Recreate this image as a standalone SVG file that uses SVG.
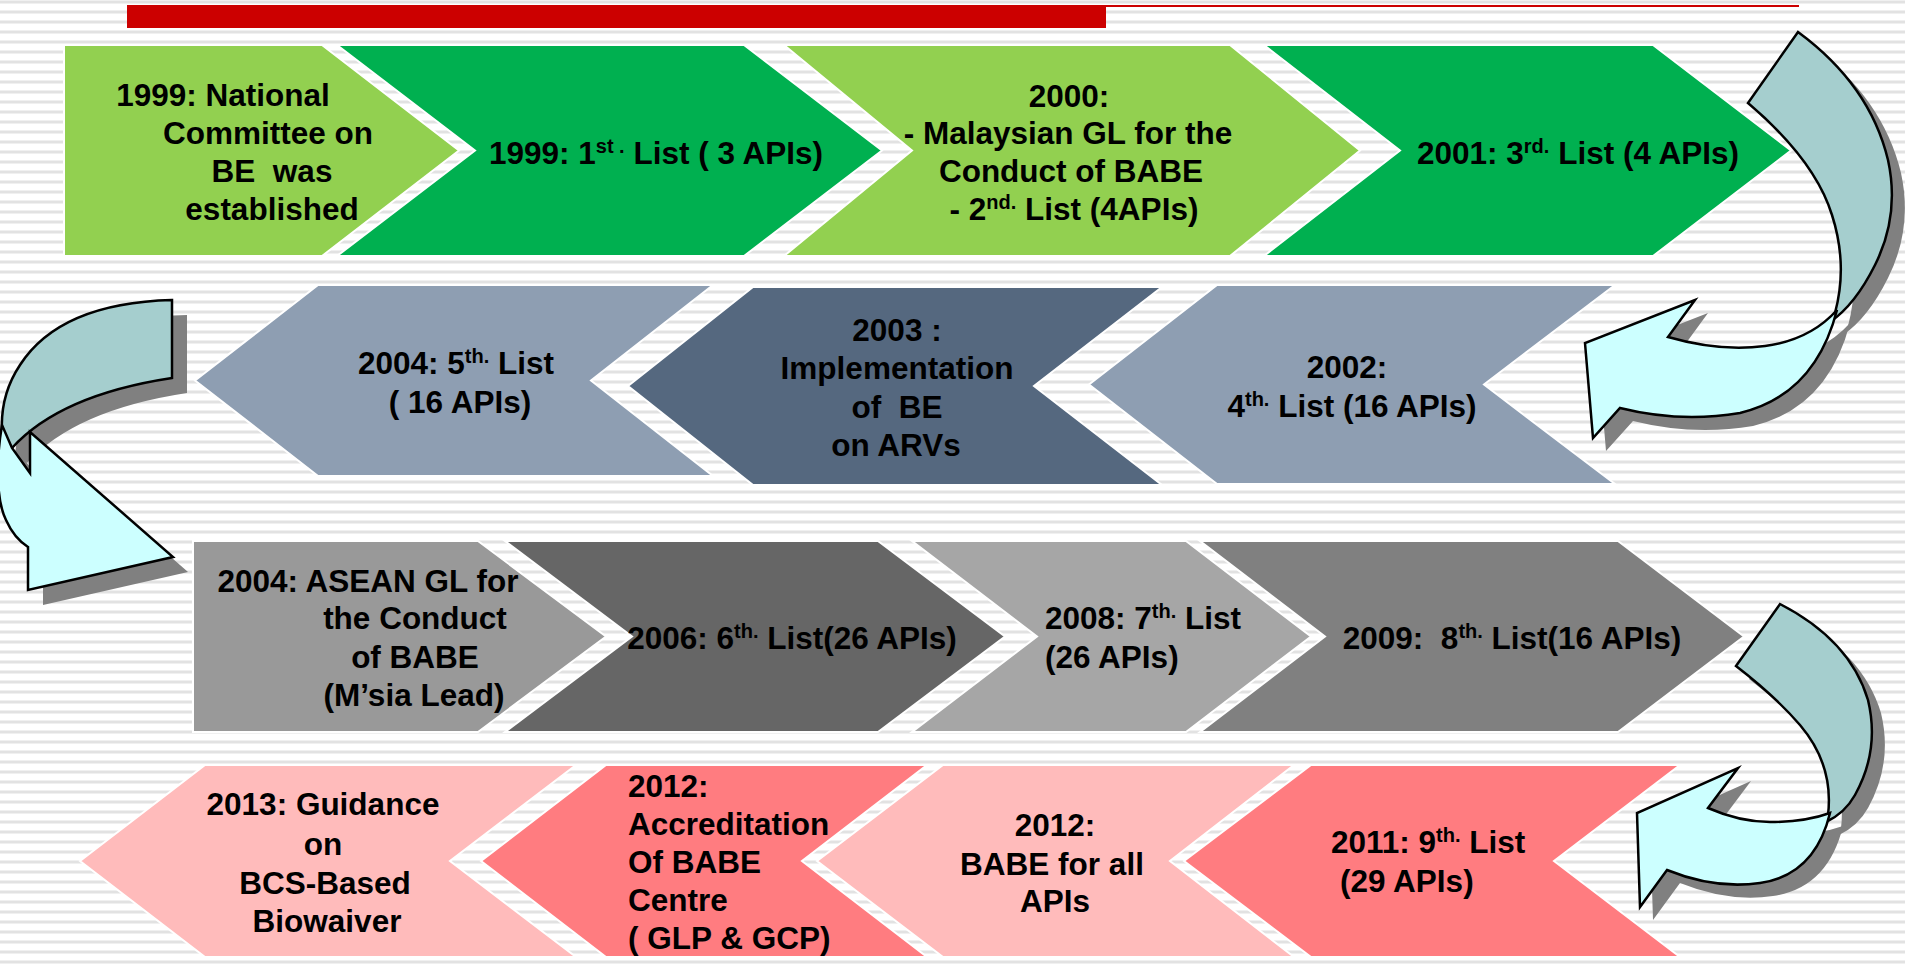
<svg xmlns="http://www.w3.org/2000/svg" width="1905" height="966" viewBox="0 0 1905 966">
<defs>
<pattern id="stripes" width="10" height="10" patternUnits="userSpaceOnUse">
<rect width="10" height="10" fill="#FFFFFF"/>
<rect y="0" width="10" height="1" fill="#F0F0F0"/>
<rect y="1" width="10" height="2" fill="#E2E2E2"/>
<rect y="3" width="10" height="1" fill="#F0F0F0"/>
</pattern>
<style>
.t{font-family:"Liberation Sans",Arial,sans-serif;font-weight:bold;font-size:31.5px;fill:#000;}
.m{text-anchor:middle;}
.sup{font-size:20px;}
.box{stroke:#FFFFFF;stroke-width:2;}
.lg{fill:#92D050;}
.dg{fill:#00B050;}
.bl{fill:#8E9EB2;}
.bd{fill:#55687F;}
.g1{fill:#999999;}
.g2{fill:#666666;}
.g3{fill:#A6A6A6;}
.g4{fill:#808080;}
.p1{fill:#FFBBBB;}
.p2{fill:#FF7C80;}
.sh{fill:#808080;}
.ab{fill:#A5CECE;stroke:#000;stroke-width:2.5;}
.af{fill:#CCFFFF;stroke:#000;stroke-width:2.5;}
</style>
<path id="a1b" d="M1798,32 Q1870,85 1888,160 Q1900,215 1875,265 Q1855,305 1830,322 L1835,313 Q1848,265 1832,215 Q1815,160 1748,103 Z"/>
<path id="a1f" d="M1837,310 Q1815,395 1740,413 Q1680,423 1620,408 L1593,438 L1585,343 L1695,300 L1668,337 Q1720,352 1765,346 Q1810,340 1837,310 Z"/>
<path id="a2b" d="M172,300 Q60,303 20,365 Q0,395 2,432 L12,448 Q60,395 172,378 Z"/>
<path id="a2f" d="M2,425 C-4,460 -4,500 6,520 Q14,538 28,547 L28,590 L173,557 L30,432 L30,473 L12,448 Z"/>
<path id="a3b" d="M1780,604 Q1850,640 1868,700 Q1880,750 1855,795 Q1845,813 1826,822 L1828,815 Q1834,765 1800,725 Q1775,696 1736,666 Z"/>
<path id="a3f" d="M1830,813 Q1815,875 1760,883 Q1715,889.5 1667,870 L1640,907 L1637,813 L1738,768 L1708,808 Q1740,822 1770,822 Q1805,822 1830,813 Z"/>
</defs>

<rect width="1905" height="966" fill="url(#stripes)"/>

<g id="header">
<rect x="127" y="5" width="979" height="23" fill="#CC0000"/>
<rect x="1106" y="5" width="693" height="2" fill="#CC0000"/>
</g>

<g id="n1999-committee">
<path class="box lg" d="M64,45 H322 L459,150.5 L322,256 H64 Z"/>
<text class="t m" x="223" y="106">1999: National</text>
<text class="t m" x="268" y="144">Committee on</text>
<text class="t m" x="272" y="182" xml:space="preserve">BE  was</text>
<text class="t m" x="272" y="220">established</text>
</g>
<g id="n1999-list1">
<path class="box dg" d="M337,45 H744 L882,150.5 L744,256 H337 L475,150.5 Z"/>
<text class="t m" x="656" y="164">1999: 1<tspan class="sup" dy="-11">st .</tspan><tspan dy="11"> List ( 3 APIs)</tspan></text>
</g>
<g id="n2000">
<path class="box lg" d="M784,45 H1230 L1360,150.5 L1230,256 H784 L912,150.5 Z"/>
<text class="t m" x="1069" y="107">2000:</text>
<text class="t m" x="1068" y="144">- Malaysian GL for the</text>
<text class="t m" x="1071" y="182">Conduct of BABE</text>
<text class="t m" x="1074" y="220">- 2<tspan class="sup" dy="-11">nd.</tspan><tspan dy="11"> List (4APIs)</tspan></text>
</g>
<g id="n2001">
<path class="box dg" d="M1264,45 H1653 L1791,150.5 L1653,256 H1264 L1400,150.5 Z"/>
<text class="t m" x="1578" y="164">2001: 3<tspan class="sup" dy="-11">rd.</tspan><tspan dy="11"> List (4 APIs)</tspan></text>
</g>

<g id="n2002">
<path class="box bl" d="M1089,384.5 L1217,285 H1615 L1484,384.5 L1615,484 H1217 Z"/>
<text class="t m" x="1347" y="378">2002:</text>
<text class="t m" x="1352" y="417">4<tspan class="sup" dy="-11">th.</tspan><tspan dy="11"> List (16 APIs)</tspan></text>
</g>
<g id="n2003">
<path class="box bd" d="M628,386 L753,287 H1162 L1034,386 L1162,485 H753 Z"/>
<text class="t m" x="897" y="341">2003 :</text>
<text class="t m" x="897" y="379">Implementation</text>
<text class="t m" x="897" y="418" xml:space="preserve">of  BE</text>
<text class="t m" x="896" y="456">on ARVs</text>
</g>
<g id="n2004-list5">
<path class="box bl" d="M195,380.5 L318,285 H713 L591,380.5 L713,476 H318 Z"/>
<text class="t m" x="456" y="374">2004: 5<tspan class="sup" dy="-11">th.</tspan><tspan dy="11"> List</tspan></text>
<text class="t m" x="460" y="413">( 16 APIs)</text>
</g>

<g id="n2004-asean">
<path class="box g1" d="M193,541 H478 L606,636.5 L478,732 H193 Z"/>
<text class="t m" x="368" y="592">2004: ASEAN GL for</text>
<text class="t m" x="415" y="629">the Conduct</text>
<text class="t m" x="415" y="668">of BABE</text>
<text class="t m" x="414" y="706">(M’sia Lead)</text>
</g>
<g id="n2006">
<path class="box g2" d="M505,541 H878 L1005,636.5 L878,732 H505 L632,636.5 Z"/>
<text class="t m" x="792" y="649">2006: 6<tspan class="sup" dy="-11">th.</tspan><tspan dy="11"> List(26 APIs)</tspan></text>
</g>
<g id="n2008">
<path class="box g3" d="M912,541 H1186 L1311,636.5 L1186,732 H912 L1037,636.5 Z"/>
<text class="t" x="1045" y="629">2008: 7<tspan class="sup" dy="-11">th.</tspan><tspan dy="11"> List</tspan></text>
<text class="t" x="1045" y="668">(26 APIs)</text>
</g>
<g id="n2009">
<path class="box g4" d="M1200,541 H1618 L1744,636.5 L1618,732 H1200 L1325,636.5 Z"/>
<text class="t m" x="1512" y="649" xml:space="preserve">2009:  8<tspan class="sup" dy="-11">th.</tspan><tspan dy="11"> List(16 APIs)</tspan></text>
</g>

<g id="n2011">
<path class="box p2" d="M1184,861 L1311,765 H1680 L1554,861 L1680,957 H1311 Z"/>
<text class="t" x="1331" y="853">2011: 9<tspan class="sup" dy="-11">th.</tspan><tspan dy="11"> List</tspan></text>
<text class="t" x="1340" y="892">(29 APIs)</text>
</g>
<g id="n2012-babe">
<path class="box p1" d="M817,861 L943,765 H1294 L1170,861 L1294,957 H943 Z"/>
<text class="t m" x="1055" y="836">2012:</text>
<text class="t m" x="1052" y="875">BABE for all</text>
<text class="t m" x="1055" y="912">APIs</text>
</g>
<g id="n2012-accreditation">
<path class="box p2" d="M481,861 L606,765 H927 L802,861 L927,957 H606 Z"/>
<text class="t" x="628" y="797">2012:</text>
<text class="t" x="628" y="835">Accreditation</text>
<text class="t" x="628" y="873">Of BABE</text>
<text class="t" x="628" y="911">Centre</text>
<text class="t" x="628" y="949">( GLP &amp; GCP)</text>
</g>
<g id="n2013">
<path class="box p1" d="M80,861 L205,765 H576 L450,861 L576,957 H205 Z"/>
<text class="t m" x="323" y="815">2013: Guidance</text>
<text class="t m" x="323" y="855">on</text>
<text class="t m" x="325" y="894">BCS-Based</text>
<text class="t m" x="327" y="932">Biowaiver</text>
</g>

<g id="connectors">
<g id="arrow-row1-row2">
<use href="#a1b" class="sh" transform="translate(13,13)"/>
<use href="#a1f" class="sh" transform="translate(13,13)"/>
<use href="#a1b" class="ab"/>
<use href="#a1f" class="af"/>
</g>
<g id="arrow-row2-row3">
<use href="#a2b" class="sh" transform="translate(15,15)"/>
<use href="#a2f" class="sh" transform="translate(15,15)"/>
<use href="#a2b" class="ab"/>
<use href="#a2f" class="af"/>
</g>
<g id="arrow-row3-row4">
<use href="#a3b" class="sh" transform="translate(13,13)"/>
<use href="#a3f" class="sh" transform="translate(13,13)"/>
<use href="#a3b" class="ab"/>
<use href="#a3f" class="af"/>
</g>
</g>
</svg>
